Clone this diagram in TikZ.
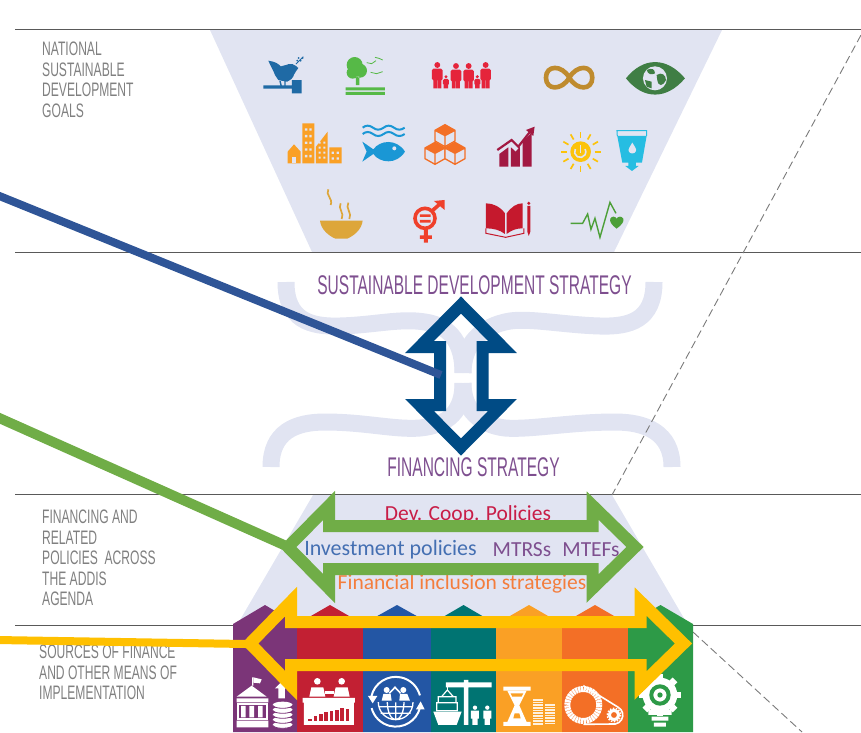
\documentclass[tikz,border=0pt]{standalone}
\usepackage{xcolor}
\usepackage{fontspec}
\newfontfamily\condfont[FakeStretch=0.62]{Liberation Sans}
\newfontfamily\stratfont[FakeStretch=0.575]{Liberation Sans}
\newfontfamily\bodyfont{Carlito}
\usetikzlibrary{arrows.meta}
\definecolor{funnelbg}{HTML}{E1E4F2}
\definecolor{rulegrey}{HTML}{595959}
\definecolor{labelgrey}{HTML}{808080}
\definecolor{titlepurple}{HTML}{7E4F8F}
\definecolor{leadblue}{HTML}{2F5597}
\definecolor{arrowblue}{HTML}{004B85}
\definecolor{arrowgreen}{HTML}{70AD47}
\definecolor{arrowyellow}{HTML}{FFC000}
\definecolor{colpurple}{HTML}{7B3578}
\definecolor{colred}{HTML}{C22033}
\definecolor{colblue}{HTML}{2356A4}
\definecolor{colteal}{HTML}{007472}
\definecolor{colorange}{HTML}{FAA025}
\definecolor{coldark}{HTML}{F36F26}
\definecolor{colgreen}{HTML}{2D9A47}
\definecolor{icondove}{HTML}{1F6AA5}
\definecolor{icontree}{HTML}{56B947}
\definecolor{iconfamily}{HTML}{E5243B}
\definecolor{icongold}{HTML}{BF8B2E}
\definecolor{iconeye}{HTML}{3F7E44}
\definecolor{iconfish}{HTML}{1A97D5}
\definecolor{icongrowth}{HTML}{A21942}
\definecolor{iconsun}{HTML}{FCC30B}
\definecolor{iconwater}{HTML}{26BDE2}
\definecolor{iconbowl}{HTML}{DDA63A}
\definecolor{icongender}{HTML}{EF402B}
\definecolor{iconbook}{HTML}{C5192D}
\definecolor{iconhealth}{HTML}{4C9F38}
\tikzset{
  rowrule/.style={rulegrey, line width=1pt},
  guide/.style={rulegrey!80, line width=0.9pt, dash pattern=on 8pt off 4pt},
  brace/.style={funnelbg, line width=17pt},
  rowlabel/.style={labelgrey, anchor=north west, align=left, inner sep=0pt, font=\condfont\fontsize{19.5}{20.5}\selectfont},
  stratlabel/.style={titlepurple, inner sep=0pt, font=\stratfont\fontsize{27}{30}\selectfont},
  policy/.style={inner sep=0pt, font=\bodyfont\fontsize{21.5}{24}\selectfont},
  toprow/.style={shift={(210,30)}, x=0.3333pt, y=-0.3333pt},
  botrow/.style={shift={(230,480)}, x=0.3333pt, y=-0.3333pt},
}
\begin{document}
\begin{tikzpicture}[x=1pt, y=-1pt, line join=miter]
\useasboundingbox (0,0) rectangle (861,732);

% Funnels
\fill[funnelbg] (210,30) -- (722,30) -- (614,252) -- (312,252) -- cycle;
\fill[funnelbg] (313,495) -- (612,495) -- (692,632) -- (233,632) -- cycle;

% Braces
\draw[brace] (286,282) .. controls (286,320) and (310,327) .. (340,326)
  .. controls (375,325) and (400,318) .. (425,322) .. controls (452,326) and (463,345) .. (463,373);
\draw[brace] (654,282) .. controls (654,320) and (630,327) .. (600,326)
  .. controls (565,325) and (530,318) .. (510,321) .. controls (480,326) and (463,345) .. (463,373);
\draw[brace] (271,467) .. controls (271,432) and (295,422) .. (325,422)
  .. controls (365,422) and (395,430) .. (420,428) .. controls (450,425) and (463,410) .. (463,383);
\draw[brace] (672,467) .. controls (672,432) and (645,422) .. (615,422)
  .. controls (570,422) and (530,430) .. (505,428) .. controls (480,425) and (463,410) .. (463,383);

% Rows
\draw[rowrule] (15,29) -- (861,29);
\draw[rowrule] (15,252) -- (861,252);
\draw[rowrule] (15,494.5) -- (861,494.5);
\draw[rowrule] (15,625) -- (861,625);

% Guides
\coordinate (guideA) at (861,35);
\coordinate (guideB) at (612,495);
\coordinate (guideC) at (693,632);
\coordinate (guideD) at (802,732);
\draw[guide] (guideA) -- (guideB);
\draw[guide] (guideC) -- (guideD);

% Row labels
\node[rowlabel] (goals) at (42,42) {NATIONAL\\SUSTAINABLE\\DEVELOPMENT\\GOALS};
\node[rowlabel] (policies) at (42,510) {FINANCING AND\\RELATED\\POLICIES\ \ ACROSS\\THE ADDIS\\AGENDA};
\node[rowlabel] (sources) at (39,645) {SOURCES OF FINANCE\\AND OTHER MEANS OF\\IMPLEMENTATION};

% Strategy labels
\node[stratlabel] (devstrat) at (474.5,285) {SUSTAINABLE DEVELOPMENT STRATEGY};
\node[stratlabel] (finstrat) at (473.5,467.5) {FINANCING STRATEGY};

% Policy labels
\node[policy, text=colred!90!magenta] (devcoop) at (468,515) {Dev. Coop. Policies};
\node[policy, text=colblue!85!white, font=\bodyfont\fontsize{22}{24}\selectfont] (invest) at (390.5,550) {Investment policies};
\node[policy, text=titlepurple] (mtrs) at (522,550) {MTRSs};
\node[policy, text=titlepurple] (mtef) at (591,550) {MTEFs};
\node[policy, text=coldark!90!white] (inclusion) at (462,584) {Financial inclusion strategies};

% Top icons
\begin{scope}[toprow]
  % dove and gavel
  \fill[icondove] (175,92) .. controls (195,95) and (205,100) .. (215,112)
    .. controls (225,105) and (245,95) .. (258,108) -- (265,114) .. controls (255,125) and (250,145) .. (232,155)
    -- (205,150) -- (195,135) .. controls (190,120) and (180,105) .. cycle;
  \fill[icondove] (226,130) ellipse (26 and 24);
  \draw[icondove, line width=1.4pt] (210,152) -- (214,170) (225,152) -- (225,170);
  \draw[icondove, line width=1pt] (258,102) -- (280,80);
  \fill[icondove] (262,92) circle (3) (272,92) circle (3) (266,84) circle (3) (278,84) circle (3);
  \fill[icondove] (160,166) rectangle (248,176) (246,150) rectangle (275,190);
  % tree and land
  \fill[icontree] (434,105) circle (24) (450,122) circle (21) (428,128) circle (18) (438,140) rectangle (448,165)
    (407,172) rectangle (525,181) (407,186) rectangle (525,195);
  \draw[icontree, line width=0.8pt] (470,98) -- (485,101) -- (498,92) (495,82) -- (507,85) -- (518,90) (482,127) -- (500,131) -- (518,125);
  % family
  \foreach \px/\py/\pw in {682/105/16, 708/140/9, 738/108/16, 776/108/16, 802/140/9, 827/105/16} {
    \fill[iconfamily] (\px,\py) circle (\pw*0.55);
    \fill[iconfamily, rounded corners=1.5pt] (\px-\pw,\py+\pw*0.7) rectangle (\px+\pw,\py+\pw*2.9);
    \fill[iconfamily] (\px-\pw*0.75,\py+\pw*2.8) rectangle (\px-\pw*0.05,175) (\px+\pw*0.05,\py+\pw*2.8) rectangle (\px+\pw*0.75,175);
  }
  % infinity
  \draw[icongold, line width=4.6pt] (1078,143) .. controls (1055,103) and (1008,105) .. (1008,143)
    .. controls (1008,181) and (1055,183) .. (1078,143) .. controls (1101,103) and (1147,105) .. (1147,143)
    .. controls (1147,181) and (1101,183) .. cycle;
  % eye
  \fill[iconeye] (1248,145) .. controls (1300,80) and (1370,80) .. (1425,145) .. controls (1370,210) and (1300,210) .. cycle;
  \fill[funnelbg] (1335,145) circle (36);
  \fill[iconeye] (1310,120) .. controls (1325,112) and (1335,118) .. (1335,130) .. controls (1325,135) and (1315,135) .. cycle
    (1340,135) .. controls (1355,125) and (1368,135) .. (1368,150) .. controls (1358,170) and (1345,170) .. (1342,150) -- cycle
    (1305,150) -- (1325,155) -- (1325,175) -- (1310,170) -- cycle;
  % city
  \fill[colorange] (233,400) -- (233,365) -- (252,343) -- (272,365) -- (272,400) -- cycle
    (277,280) rectangle (313,400) (318,400) -- (318,350) -- (353,305) -- (353,400) -- cycle (358,352) rectangle (395,400);
  \fill[funnelbg] (247,380) rectangle (258,400);
  \foreach \wy in {295,315,335,355,375} { \fill[funnelbg] (285,\wy) rectangle +(7,7) (298,\wy) rectangle +(7,7); }
  \foreach \wy in {335,350,365,380} { \fill[funnelbg] (326,\wy) rectangle +(6,6) (340,\wy) rectangle +(6,6); }
  \foreach \wy in {365,382} { \fill[funnelbg] (365,\wy) rectangle +(7,7) (380,\wy) rectangle +(7,7); }
  % water and fish
  \foreach \wy in {293,312} {
    \draw[iconfish, line width=2pt] (458,\wy) .. controls (468,\wy-8) and (478,\wy-8) .. (489,\wy)
      .. controls (499,\wy+8) and (510,\wy+8) .. (521,\wy) .. controls (531,\wy-8) and (541,\wy-8) .. (552,\wy)
      .. controls (562,\wy+8) and (574,\wy+8) .. (584,\wy);
  }
  \fill[iconfish] (457,335) -- (490,358) .. controls (510,330) and (560,325) .. (585,365)
    .. controls (560,405) and (510,400) .. (490,372) -- (457,395) -- (470,365) -- cycle;
  \fill[funnelbg] (553,355) circle (6);
  % cubes
  \foreach \cx/\cy in {675/370, 735/370, 705/317} {
    \fill[coldark] (\cx,\cy-33) -- (\cx+30,\cy-16) -- (\cx,\cy) -- (\cx-30,\cy-16) -- cycle;
    \fill[funnelbg] (\cx+30,\cy-16) -- (\cx+30,\cy+16) -- (\cx,\cy+33) -- (\cx-30,\cy+16) -- (\cx-30,\cy-16) -- (\cx,\cy) -- cycle;
    \draw[coldark, line width=1.3pt] (\cx,\cy-33) -- (\cx+30,\cy-16) -- (\cx+30,\cy+16) -- (\cx,\cy+33) -- (\cx-30,\cy+16) -- (\cx-30,\cy-16) -- cycle
      (\cx,\cy) -- (\cx,\cy+33) (\cx,\cy) -- (\cx+30,\cy-16) (\cx,\cy) -- (\cx-30,\cy-16);
  }
  % growth
  \fill[icongrowth] (868,410) -- (868,372) -- (895,352) -- (895,410) -- cycle (903,410) -- (903,352) -- (917,365) -- (930,350) -- (930,410) -- cycle
    (938,410) -- (938,335) -- (965,308) -- (965,410) -- cycle;
  \draw[icongrowth, line width=2.2pt] (862,360) -- (905,330) -- (925,350) -- (962,303);
  \fill[icongrowth] (974,290) -- (970,318) -- (948,300) -- cycle;
  % sun
  \fill[iconsun] (1112,365) circle (31);
  \draw[funnelbg, line width=1.6pt] (1096,357) arc[start angle=210, end angle=-30, radius=17];
  \draw[funnelbg, line width=1.6pt] (1112,345) -- (1112,368);
  \foreach \ra in {0,30,...,330} { \draw[iconsun, line width=1.7pt] (1112,365) ++(\ra:42) -- ++(\ra:18); }
  % water glass
  \fill[iconwater] (1222,318) -- (1310,318) -- (1296,398) -- (1278,398) -- (1278,408) -- (1286,408) -- (1266,423) -- (1246,408) -- (1255,408) -- (1255,398) -- (1237,398) -- cycle;
  \draw[iconwater, line width=1pt] (1222,318) -- (1221,302) -- (1310,302) -- (1310,318);
  \fill[funnelbg] (1267,338) .. controls (1275,350) and (1280,358) .. (1278,363) .. controls (1275,373) and (1259,373) .. (1256,363) .. controls (1254,358) and (1260,350) .. cycle;
  % bowl
  \fill[iconbowl] (330,572) -- (458,572) .. controls (455,600) and (430,618) .. (412,626) -- (376,626) .. controls (358,618) and (333,600) .. cycle;
  \draw[iconbowl, line width=1.7pt] (355,478) .. controls (345,495) and (370,505) .. (362,525)
    (392,520) .. controls (382,535) and (405,550) .. (395,567) (415,518) .. controls (405,535) and (428,550) .. (418,567);
  % gender
  \draw[icongender, line width=3.6pt] (645,565) circle (30);
  \fill[icongender] (630,553) rectangle (662,561) (630,570) rectangle (662,578) (642,595) rectangle (654,638) (630,616) rectangle (666,627);
  \draw[icongender, line width=3.6pt] (666,543) -- (692,520);
  \fill[icongender] (704,510) -- (704,540) -- (672,513) -- cycle;
  % book
  \fill[iconbook] (828,520) .. controls (850,520) and (870,530) .. (885,550) -- (885,612) .. controls (870,600) and (850,595) .. (828,595) -- cycle
    (890,550) .. controls (905,530) and (920,520) .. (938,520) -- (938,595) .. controls (920,595) and (905,600) .. (890,612) -- cycle
    (952,528) rectangle (961,605) (952,605) -- (961,605) -- (956.5,618) -- cycle;
  \fill[iconbook] (956.5,520) circle (5);
  \draw[iconbook, line width=1pt] (828,595) -- (828,610) -- (887,622) -- (942,610) -- (942,595);
  % health
  \draw[iconhealth, line width=1.4pt] (1082,580) -- (1118,580) -- (1133,552) -- (1143,598) -- (1155,565) -- (1170,622) -- (1200,517) -- (1218,550);
  \fill[iconhealth] (1220,596) .. controls (1205,585) and (1198,575) .. (1201,566) .. controls (1205,558) and (1216,558) .. (1220,566)
    .. controls (1224,558) and (1236,558) .. (1240,566) .. controls (1243,575) and (1235,585) .. cycle;
\end{scope}

% Columns
\foreach \lx/\rx/\colr in {233/297/colpurple, 297/363/colred, 363/431/colblue, 431/496/colteal, 496/562/colorange, 562/628/coldark, 628/693/colgreen} {
  \fill[\colr] (\lx,732) -- (\lx,624) -- ({(\lx+\rx)/2},605) -- (\rx,624) -- (\rx,732) -- cycle;
}

% Bottom icons
\begin{scope}[botrow]
  % bank and coins
  \fill[white] (20,650) -- (65,617) -- (110,650) -- cycle (20,655) rectangle (115,667) (20,722) rectangle (115,742) (66,592) rectangle (70,617);
  \fill[white] (70,592) -- (95,598) -- (90,610) -- (70,608) -- cycle;
  \draw[white, line width=2pt] (25,672) rectangle (110,716);
  \fill[white] (33,678) rectangle (47,712) (58,678) rectangle (72,712) (84,678) rectangle (98,712);
  \fill[white] (135,625) -- (155,605) -- (175,625) -- (165,625) -- (165,655) -- (145,655) -- (145,625) -- cycle;
  \foreach \cy in {735,720,705,690,675} { \fill[white] (158,\cy) ellipse (30 and 10); \draw[colpurple, line width=0.8pt] (128,\cy) arc[start angle=180, end angle=0, x radius=30, y radius=10]; }
  % table
  \foreach \hx in {262, 335} {
    \fill[white] (\hx,604) circle (10);
    \fill[white] (\hx-24,650) -- (\hx-18,622) -- (\hx+18,622) -- (\hx+24,650) -- cycle;
  }
  \fill[white] (285,632) rectangle (312,642);
  \fill[white] (218,654) rectangle (375,668) (222,668) rectangle (372,735);
  \foreach \bx/\bh in {235/7, 251/14, 267/20, 283/26, 299/30, 315/34, 331/38, 347/36} { \fill[colred] (\bx,723) rectangle (\bx+11,723-\bh); }
  % globe and people
  \draw[white, line width=2pt] (424,650) arc[start angle=192, end angle=345, radius=75];
  \draw[white, line width=2pt] (570,683) arc[start angle=14, end angle=165, radius=75];
  \fill[white] (414,648) -- (442,648) -- (428,670) -- cycle (558,688) -- (584,688) -- (572,664) -- cycle;
  \begin{scope}
    \clip (440,667) rectangle (555,730);
    \draw[white, line width=1.3pt] (497,667) circle (52) (497,667) ellipse (25 and 52) (497,667) -- (497,720) (445,680) -- (549,680) (452,700) -- (542,700);
  \end{scope}
  \fill[white] (470,630) circle (9) (520,630) circle (9) (455,662) -- (460,642) -- (482,642) -- (485,662) -- cycle (508,662) -- (510,642) -- (532,642) -- (540,662) -- cycle;
  \draw[white, line width=1.6pt] (478,640) -- (495,622) -- (512,640);
  % port
  \fill[white] (648,607) rectangle (785,622) (702,600) rectangle (715,607) (702,622) rectangle (715,735);
  \draw[white, line width=1pt] (652,622) -- (652,630);
  \draw[white, line width=1.2pt] (625,650) rectangle (678,668) (620,668) rectangle (682,692) (652,630) -- (635,650) (652,630) -- (670,650);
  \fill[white] (610,695) -- (695,695) -- (680,735) -- (625,735) -- cycle;
  \foreach \hx in {735,772} {
    \fill[white] (\hx,683) circle (6.5) (\hx-12,692) rectangle (\hx+12,716) (\hx-8,716) rectangle (\hx+8,735);
  }
  % hourglass and coins
  \fill[white] (820,620) rectangle (902,632) (820,726) rectangle (902,738);
  \fill[white] (832,632) -- (890,632) -- (868,676) -- (890,726) -- (832,726) -- (854,676) -- cycle;
  \fill[colorange] (842,640) -- (880,640) -- (875,650) -- (847,650) -- cycle (850,715) -- (872,715) -- (868,700) -- (854,700) -- cycle;
  \foreach \sx/\sy/\sn in {925/655/663, 960/670/678} { \fill[white!85!colorange] (\sx-15,\sy) rectangle (\sx+15,735); \foreach \ly in {\sy,\sn,...,735} { \draw[colorange, line width=0.5pt] (\sx-15,\ly) -- (\sx+15,\ly); } }
  % gear wheels
  \draw[white, line width=1.6pt] (1060,617) -- (1165,682) arc[start angle=-60, end angle=80, radius=27] -- (1060,733);
  \draw[white, line width=6pt, dash pattern=on 2.2pt off 0.6pt] (1060,675) circle (48);
  \draw[white, line width=3pt] (1152,705) circle (14);
  \draw[white, line width=1.5pt, dash pattern=on 1.5pt off 1.5pt] (1152,705) circle (20);
  % gear bulb
  \foreach \ga in {0,45,...,315} { \fill[white] (1290,645) ++(\ga:50) ++(\ga+90:10) -- ++(\ga:14) -- ++(\ga-90:20) -- ++(\ga:-14) -- cycle; }
  \fill[white] (1290,645) circle (52);
  \fill[white] (1255,690) rectangle (1325,705) (1265,710) rectangle (1315,722) (1272,728) rectangle (1308,740);
  \draw[colgreen, line width=4pt] (1290,645) circle (26);
  \fill[colgreen] (1290,645) circle (8);
\end{scope}

% Double arrows
\draw[arrowblue, line width=12pt] (461,305) -- (502.5,347) -- (482.7,347) -- (482.7,405) -- (502.5,405) -- (461,447)
  -- (419.5,405) -- (440,405) -- (440,347) -- (419.5,347) -- cycle;
\draw[arrowgreen, line width=12pt] (288,547) -- (329,505.5) -- (329,526) -- (592.5,526) -- (592.5,505.5) -- (635,547)
  -- (592.5,588.5) -- (592.5,569) -- (329,569) -- (329,588.5) -- cycle;
\draw[arrowyellow, line width=12pt] (250,643.5) -- (291,601.5) -- (291,622) -- (640.5,622) -- (640.5,601.5) -- (683.5,643.5)
  -- (640.5,685.5) -- (640.5,665) -- (291,665) -- (291,685.5) -- cycle;

% Leaders
\coordinate (blueStart) at (-3,195);
\coordinate (blueEnd) at (441,375);
\coordinate (greenStart) at (-3,417);
\coordinate (greenEnd) at (284,545);
\coordinate (yellowStart) at (-3,640);
\coordinate (yellowEnd) at (246,644);
\draw[leadblue, line width=8pt] (blueStart) -- (blueEnd);
\draw[arrowgreen, line width=10pt] (greenStart) -- (greenEnd);
\draw[arrowyellow, line width=8pt] (yellowStart) -- (yellowEnd);
\end{tikzpicture}
\end{document}
